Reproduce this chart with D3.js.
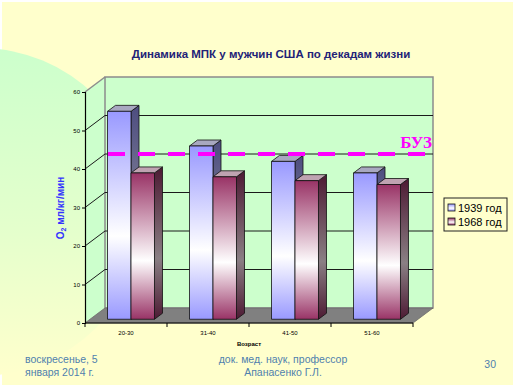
<!DOCTYPE html>
<html>
<head>
<meta charset="utf-8">
<script src="https://cdn.jsdelivr.net/npm/d3@7.9.0/dist/d3.min.js"></script>
<style>
  html, body { margin: 0; padding: 0; background: #fff; }
  svg { display: block; font-family: 'Liberation Sans', Arial, sans-serif; }
</style>
</head>
<body>
<div id="chart"></div>
<script>
// ---------- DATA ----------
const categories = ['20-30', '31-40', '41-50', '51-60'];
const seriesNames = ['1939 год', '1968 год'];
const values1939 = [54, 45, 41, 38];
const values1968 = [38, 37, 36, 35];
const yTicks = [0, 10, 20, 30, 40, 50, 60];
const buzValue = 40; // dashed reference line, on back wall

// ---------- SETUP ----------
const width = 516;
const height = 388;

const svg = d3
  .select('#chart')
  .append('svg')
  .attr('width', width)
  .attr('height', height);

const defs = svg.append('defs');

// front-plane area of the 3d chart
const plot = { left: 85, right: 413, bottom: 323, top: 92 };
const depth = { dx: 20, dy: -15 };
const barDepth = [0.25, 0.65];

const xScale = d3
  .scaleBand()
  .domain(categories)
  .range([plot.left, plot.right]);

const xInner = d3
  .scaleBand()
  .domain(seriesNames)
  .range([0, xScale.bandwidth()])
  .paddingInner(0)
  .paddingOuter(0.745);

const yScale = d3.scaleLinear().domain([0, 60]).range([plot.bottom, plot.top]);

// move a point back by a fraction of the depth
const back = (f) => ([x, y]) => [x + depth.dx * f, y + depth.dy * f];
const pts = (arr) => arr.map((p) => p.join(',')).join(' ');

function vGrad(id, stops) {
  const g = defs.append('linearGradient').attr('id', id)
    .attr('x1', 0).attr('y1', 0).attr('x2', 0).attr('y2', 1);
  stops.forEach(([o, c]) => g.append('stop').attr('offset', o).attr('stop-color', c));
}

vGrad('bg-circle', [[0, '#ccffcc'], [0.55, '#e4ffcc'], [1, '#ffffcc']]);
vGrad('front-0', [[0, '#9999ff'], [0.6, '#ffffff'], [1, '#9999ff']]);
vGrad('front-1', [[0, '#993366'], [0.6, '#ffffff'], [1, '#993366']]);
vGrad('side-0', [[0, '#4d4d80'], [0.6, '#8a8a9a'], [1, '#4d4d80']]);
vGrad('side-1', [[0, '#4d1a33'], [0.6, '#8a7f84'], [1, '#4d1a33']]);

const seriesStyle = [
  { front: 'url(#front-0)', side: 'url(#side-0)', top: '#a8a8c0', values: values1939 },
  { front: 'url(#front-1)', side: 'url(#side-1)', top: '#bfa3b1', values: values1968 },
];

// ---------- BACKGROUND ----------
svg.append('rect').attr('x', 2).attr('y', 2).attr('width', 511).attr('height', 383)
  .attr('fill', '#ffffcc');
svg.append('circle').attr('cx', -20).attr('cy', 212).attr('r', 164)
  .attr('fill', 'url(#bg-circle)');

// ---------- TITLE ----------
svg.append('text')
  .attr('x', 271).attr('y', 58)
  .attr('text-anchor', 'middle')
  .attr('font-size', 11.5).attr('font-weight', 'bold')
  .attr('fill', '#222277')
  .text('Динамика МПК у мужчин США по декадам жизни');

// ---------- WALLS ----------
const fb = [plot.left, plot.bottom];
const ft = [plot.left, plot.top];
const fr = [plot.right, plot.bottom];
const B = back(1);

// side wall
svg.append('polygon')
  .attr('points', pts([fb, ft, B(ft), B(fb)]))
  .attr('fill', '#ccffcc');

// back wall
svg.append('polygon')
  .attr('points', pts([B(fb), B(ft), B([plot.right, plot.top]), B(fr)]))
  .attr('fill', '#ccffcc')
  .attr('stroke', '#8c8c8c').attr('stroke-width', 1.5);

svg.append('line')
  .attr('x1', ft[0]).attr('y1', ft[1]).attr('x2', B(ft)[0]).attr('y2', B(ft)[1])
  .attr('stroke', '#8c8c8c').attr('stroke-width', 1.5);

// gridlines
const grid = svg.append('g').attr('class', 'gridlines')
  .attr('stroke', '#1a1a1a').attr('stroke-width', 1);
yTicks.filter((v) => v > 0 && v < 60).forEach((v) => {
  const p = [plot.left, yScale(v)];
  const q = B(p);
  grid.append('line').attr('x1', p[0]).attr('y1', p[1]).attr('x2', q[0]).attr('y2', q[1]);
  grid.append('line').attr('x1', q[0]).attr('y1', q[1]).attr('x2', B([plot.right, 0])[0]).attr('y2', q[1]);
});

// floor
svg.append('polygon')
  .attr('points', pts([fb, fr, B(fr), B(fb)]))
  .attr('fill', '#808080')
  .attr('stroke', '#6a6a6a').attr('stroke-width', 0.8);

// ---------- BARS ----------
const barsG = svg.append('g').attr('class', 'bars');
categories.forEach((cat, i) => {
  seriesStyle.forEach((s, k) => {
    const x0 = xScale(cat) + xInner(seriesNames[k]);
    const x1 = x0 + xInner.bandwidth();
    const yb = yScale(0);
    const yt = yScale(s.values[i]);
    const F = back(barDepth[0]);
    const K = back(barDepth[1]);
    const fbl = F([x0, yb]), fbr = F([x1, yb]), ftl = F([x0, yt]), ftr = F([x1, yt]);
    const bbr = K([x1, yb]), btl = K([x0, yt]), btr = K([x1, yt]);
    barsG.append('polygon').attr('points', pts([fbr, ftr, btr, bbr]))
      .attr('fill', s.side).attr('stroke', '#111').attr('stroke-width', 0.8)
      .attr('stroke-linejoin', 'round');
    barsG.append('polygon').attr('points', pts([ftl, ftr, btr, btl]))
      .attr('fill', s.top).attr('stroke', '#111').attr('stroke-width', 0.8)
      .attr('stroke-linejoin', 'round');
    barsG.append('polygon').attr('points', pts([fbl, ftl, ftr, fbr]))
      .attr('fill', s.front).attr('stroke', '#111').attr('stroke-width', 0.8)
      .attr('stroke-linejoin', 'round');
  });
});

// ---------- БУЗ LINE ----------
const buzY = B([0, yScale(buzValue)])[1];
svg.append('line')
  .attr('x1', plot.left + 23).attr('x2', B(fr)[0] - 1)
  .attr('y1', buzY).attr('y2', buzY)
  .attr('stroke', '#ff00ff').attr('stroke-width', 4)
  .attr('stroke-dasharray', '17,13');
svg.append('text')
  .attr('x', B(fr)[0] - 1).attr('y', buzY - 6)
  .attr('text-anchor', 'end')
  .attr('font-family', "'Liberation Serif', 'Times New Roman', serif")
  .attr('font-size', 17).attr('font-weight', 'bold')
  .attr('fill', '#ff00ff')
  .text('БУЗ');

// ---------- AXES ----------
const yAxis = d3.axisLeft(yScale).tickValues(yTicks).tickSize(3).tickPadding(2);
const yAxisG = svg.append('g')
  .attr('class', 'y-axis')
  .attr('transform', `translate(${plot.left},0)`)
  .call(yAxis);
yAxisG.select('.domain').attr('stroke', '#000').attr('stroke-width', 1.2);
yAxisG.selectAll('.tick line').attr('stroke', '#000');
yAxisG.selectAll('text').attr('font-size', 6).attr('fill', '#000')
  .attr('font-family', "'Liberation Sans', Arial, sans-serif");

const xAxisG = svg.append('g')
  .attr('class', 'x-axis')
  .attr('transform', `translate(0,${plot.bottom})`);
xAxisG.append('line').attr('x1', plot.left).attr('x2', plot.right)
  .attr('stroke', '#000').attr('stroke-width', 1.2);
const tickXs = categories.map((c) => xScale(c)).concat([plot.right]);
xAxisG.selectAll('line.tick').data(tickXs).join('line').attr('class', 'tick')
  .attr('x1', (d) => d).attr('x2', (d) => d).attr('y1', 0).attr('y2', 4)
  .attr('stroke', '#000');
xAxisG.selectAll('text').data(categories).join('text')
  .attr('x', (d) => xScale(d) + xScale.bandwidth() / 2)
  .attr('y', 12)
  .attr('text-anchor', 'middle')
  .attr('font-size', 6)
  .text((d) => d);

svg.append('text')
  .attr('x', (plot.left + plot.right) / 2).attr('y', 346)
  .attr('text-anchor', 'middle')
  .attr('font-size', 6).attr('font-weight', 'bold')
  .text('Возраст');

// y title
const yt = svg.append('text')
  .attr('transform', 'translate(64,208) rotate(-90)')
  .attr('text-anchor', 'middle')
  .attr('font-size', 10).attr('font-weight', 'bold')
  .attr('fill', '#3333ff');
yt.append('tspan').text('О');
yt.append('tspan').attr('font-size', 7).attr('dy', 2).text('2');
yt.append('tspan').attr('dy', -2).text(' мл/кг/мин');

// ---------- LEGEND ----------
const legend = svg.append('g').attr('transform', 'translate(444,198)');
legend.append('rect').attr('width', 63).attr('height', 33)
  .attr('fill', '#ffffcc').attr('stroke', '#222').attr('stroke-width', 1);
seriesNames.forEach((name, k) => {
  const row = legend.append('g').attr('transform', `translate(4,${10 + k * 14})`);
  row.append('rect').attr('x', 0).attr('y', -4).attr('width', 7).attr('height', 7)
    .attr('fill', seriesStyle[k].front).attr('stroke', '#111').attr('stroke-width', 0.8);
  row.append('text').attr('x', 10).attr('y', 4)
    .attr('font-size', 11).attr('fill', '#000')
    .text(name);
});

// ---------- FOOTER ----------
const footer = svg.append('g').attr('fill', '#4f7fae').attr('font-size', 10.5);
footer.append('text').attr('x', 25).attr('y', 363).text('воскресенье, 5');
footer.append('text').attr('x', 25).attr('y', 376).text('января 2014 г.');
footer.append('text').attr('x', 283).attr('y', 363).attr('text-anchor', 'middle')
  .text('док. мед. наук, профессор');
footer.append('text').attr('x', 283).attr('y', 376).attr('text-anchor', 'middle')
  .text('Апанасенко Г.Л.');
footer.append('text').attr('x', 496).attr('y', 368).attr('text-anchor', 'end').text('30');
</script>
</body>
</html>
